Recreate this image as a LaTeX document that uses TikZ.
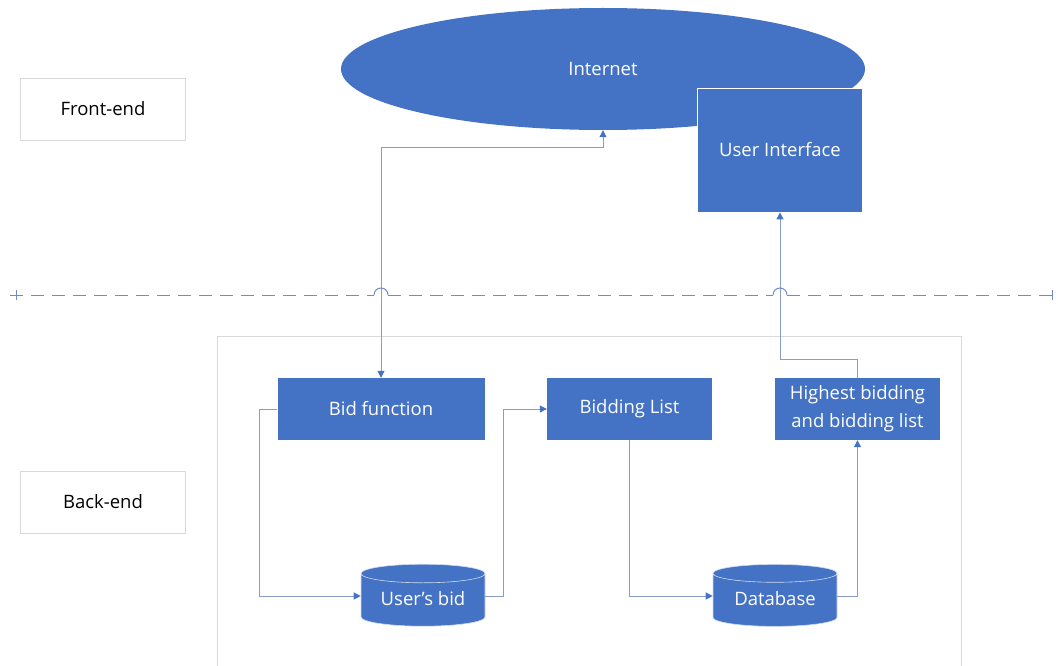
\documentclass[tikz,border=0pt]{standalone}
\usepackage{fontspec}
\setmainfont{Open Sans}
\usetikzlibrary{shapes.geometric,arrows.meta}
\definecolor{boxblue}{HTML}{4472C4}
\definecolor{linkblue}{HTML}{8A9CC8}
\definecolor{dashblue}{HTML}{6F8CC8}
\definecolor{framegray}{HTML}{D9D9D9}

\begin{document}
\begin{tikzpicture}[x=1pt,y=-1pt,
	block/.style={rectangle,fill=boxblue,text=white,inner sep=0pt,align=center,
		font=\fontsize{18.5}{28}\selectfont},
	tagbox/.style={rectangle,draw=framegray,line width=0.8pt,fill=white,minimum width=165pt,
		minimum height=62pt,font=\fontsize{18.5}{24}\selectfont},
	store/.style={cylinder,shape border rotate=90,aspect=0.22,fill=boxblue,draw=white!75!boxblue,
		line width=0.6pt,text=white,inner sep=0pt,font=\fontsize{18.5}{24}\selectfont},
	link/.style={draw=linkblue,line width=1pt,-{Triangle[length=7pt,width=7pt,color=boxblue]}},
	twolink/.style={draw=linkblue,line width=1pt,{Triangle[length=7pt,width=7pt,color=boxblue]}-{Triangle[length=7pt,width=7pt,color=boxblue]}}]
	\useasboundingbox (0,0) rectangle (1058,666);
	
	% layers
	\node[tagbox] (front) at (103,109) {Front-end};
	\node[tagbox] (back) at (103,502) {Back-end};
	\draw[framegray,line width=0.8pt] (217,666) -- (217,336) -- (961,336) -- (961,666);
	
	% front-end
	\node[ellipse,fill=boxblue,text=white,minimum width=524pt,minimum height=122pt,inner sep=0pt,
		font=\fontsize{18.5}{24}\selectfont] (net) at (603,69) {Internet};
	\node[block,draw=white,line width=0.8pt,minimum width=165pt,minimum height=124pt] (ui) at (780,150) {User Interface};
	
	% back-end
	\node[block,minimum width=207pt,minimum height=62pt] (bid) at (381,409) {Bid function};
	\node[block,minimum width=165pt,minimum height=62pt] (blist) at (629.5,409) {Bidding List};
	\node[block,minimum width=165pt,minimum height=62pt] (high) at (857.5,409) {Highest bidding\\and bidding list};
	\node[store,minimum width=124pt,minimum height=62pt] (ubid) at (423,600) {\raisebox{4pt}{User’s bid}};
	\node[store,minimum width=124pt,minimum height=62pt] (db) at (775,600) {\raisebox{4pt}{Database}};
	
	% connectors
	\draw[twolink] (bid.north) -- ++(0,-230) -| (net.south);
	\draw[link] (bid.west) -- ++(-18,0) |- ([yshift=4pt]ubid.180);
	\draw[link] ([yshift=4pt]ubid.0) -- ++(18,0) |- (blist.west);
	\draw[link] (blist.south) |- ([yshift=4pt]db.180);
	\draw[link] ([yshift=4pt]db.0) -| (high.south);
	\draw[link] (high.north) -- ++(0,-18) -| (ui.south);
	
	% divider
	\draw[dashblue,line width=1pt,dash pattern=on 13pt off 8pt] (10,295) -- (374,295);
	\draw[dashblue,line width=1pt,dash pattern=on 13pt off 8pt] (388,295) -- (773,295);
	\draw[dashblue,line width=1pt,dash pattern=on 13pt off 8pt] (787,295) -- (1052,295);
	\draw[dashblue,line width=1pt] (374,295) arc (180:360:7);
	\draw[dashblue,line width=1pt] (773,295) arc (180:360:7);
	\draw[dashblue,line width=1pt] (16,290) -- (16,300);
	\draw[dashblue,line width=1pt] (1052,290) -- (1052,300);
\end{tikzpicture}
\end{document}
